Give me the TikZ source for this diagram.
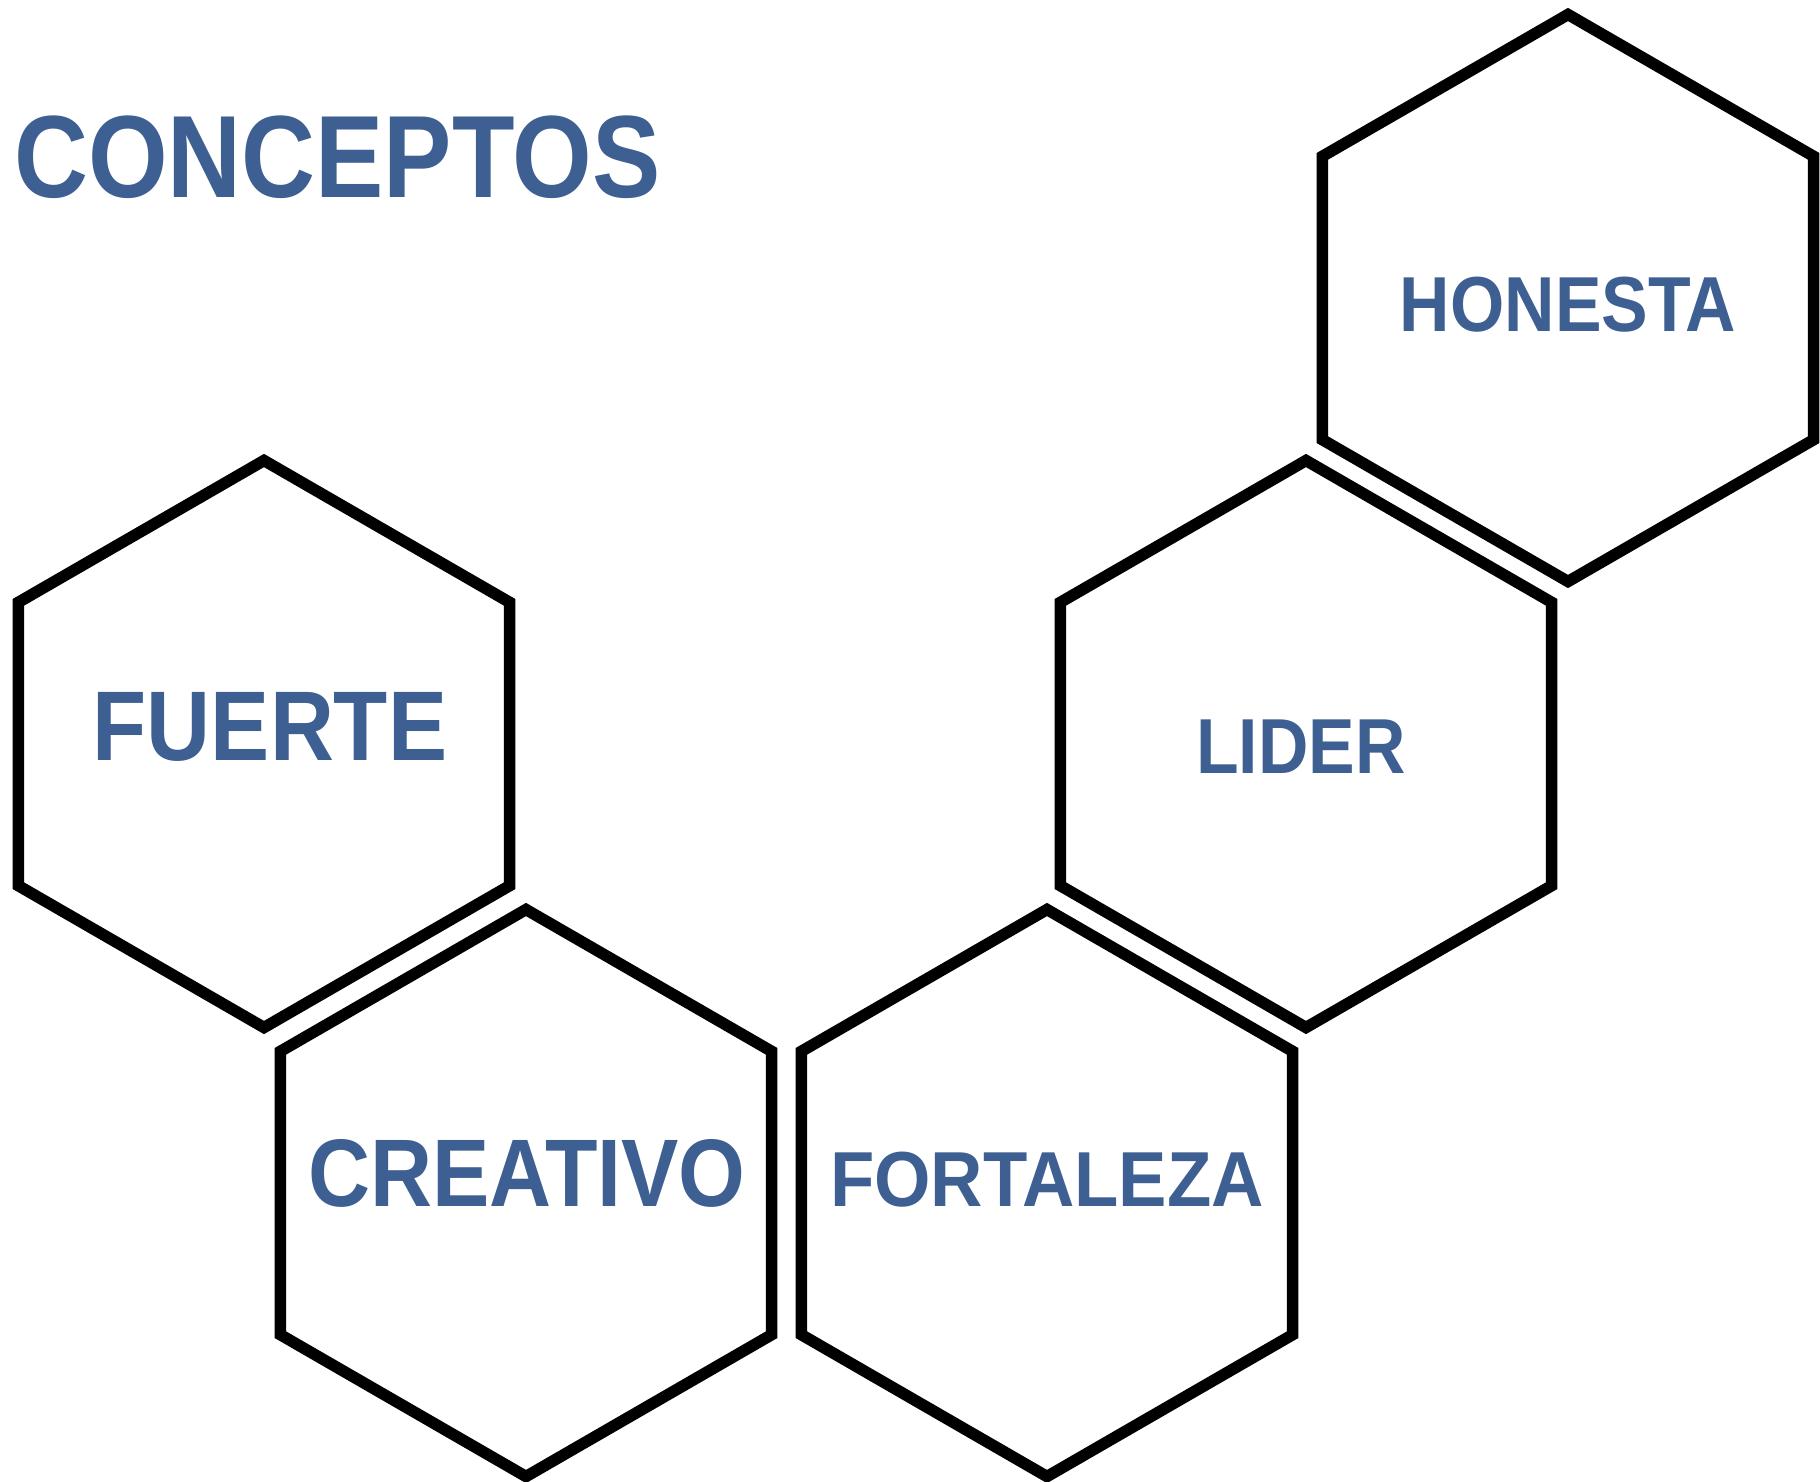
\documentclass[tikz,border=0pt]{standalone}
\usepackage{fontspec}
\setmainfont{Liberation Sans}
\newfontfamily\titlefont[FakeStretch=0.875]{Liberation Sans}
\newfontfamily\blockfont[FakeStretch=0.895]{Liberation Sans}
\newfontfamily\wideblockfont[FakeStretch=0.93]{Liberation Sans}
\usetikzlibrary{shapes.geometric}

\definecolor{conceptblue}{HTML}{3E5F92}

\tikzset{
	hexcell/.style = {regular polygon, regular polygon sides = 6,
		shape border rotate = 30, minimum size = 567pt, inner sep = 0pt,
		draw, line width = 11.5pt},
	word/.style = {text = conceptblue, inner sep = 0pt, anchor = base,
		font = \blockfont\bfseries\fontsize{78}{78}\selectfont}
}

\begin{document}
\begin{tikzpicture}[x = 1pt, y = -1pt]
\useasboundingbox (0, 0) rectangle (1820, 1481);
%\draw[red] (0, 0) rectangle (1820, 1481);

\node[word, anchor = base west, font = \titlefont\bfseries\fontsize{117}{117}\selectfont]
	(titulo) at (14, 197) {CONCEPTOS};

\node[hexcell] (fuerte) at (264, 744) {};
\node[hexcell] (creativo) at (526, 1193) {};
\node[hexcell] (fortaleza) at (1047, 1193) {};
\node[hexcell] (lider) at (1306, 744) {};
\node[hexcell] (honesta) at (1568, 298) {};

\node[word, font = \blockfont\bfseries\fontsize{99}{99}\selectfont]
	(tfuerte) at (270, 760) {FUERTE};
\node[word, font = \blockfont\bfseries\fontsize{96}{96}\selectfont]
	(tcreativo) at (527, 1206) {CREATIVO};
\node[word, font = \wideblockfont\bfseries\fontsize{78}{78}\selectfont]
	(tfortaleza) at (1047, 1206) {FORTALEZA};
\node[word] (tlider) at (1301, 773) {LIDER};
\node[word] (thonesta) at (1568, 331) {HONESTA};
\end{tikzpicture}
\end{document}
